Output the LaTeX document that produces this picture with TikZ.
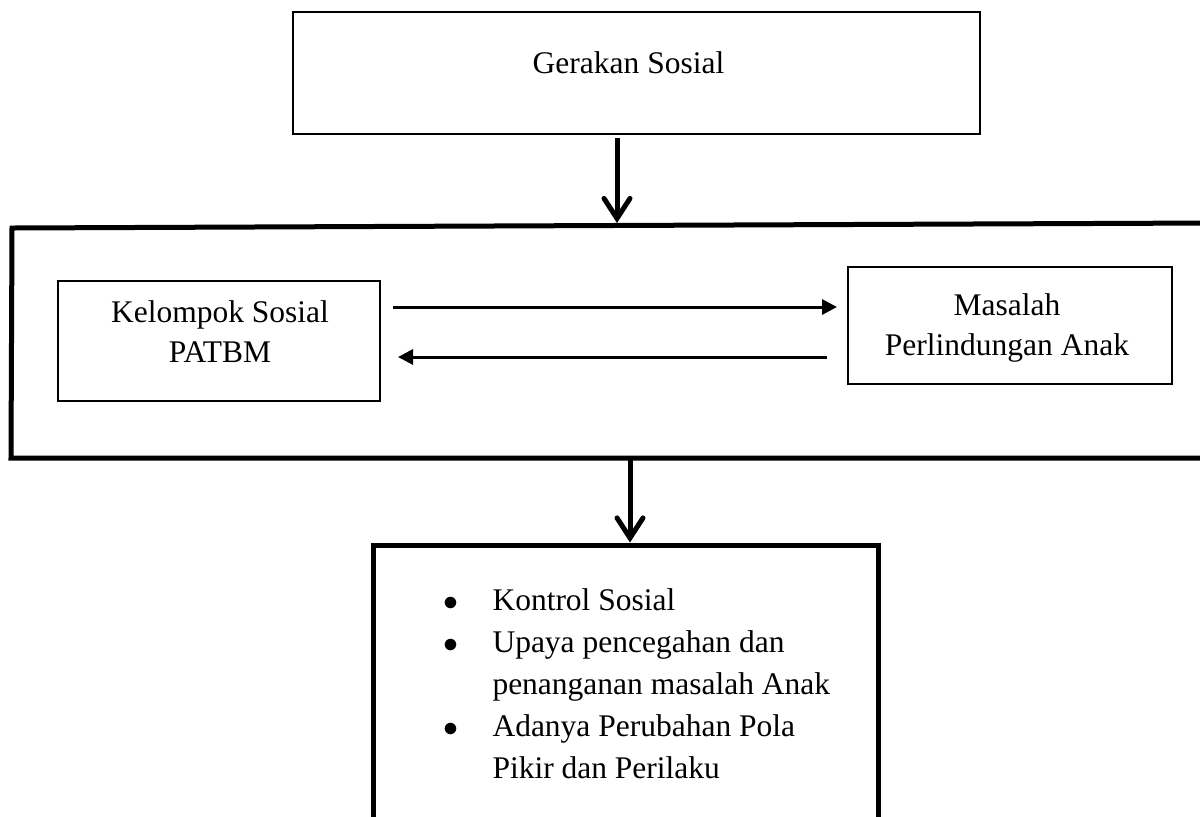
\documentclass[tikz,border=0pt]{standalone}
\usepackage{fontspec}
\setmainfont{Liberation Serif}
\usetikzlibrary{arrows.meta,positioning}

\begin{document}
\begin{tikzpicture}[x=0.4pt,y=-0.4pt]
\tikzstyle{every node}+=[inner sep=0pt,font=\fontsize{12.6}{16}\selectfont]
\tikzstyle{kotak}=[draw,line width=0.8pt]
\tikzstyle{tebal}=[draw,line width=2pt]
\tikzstyle{panahbesar}=[line width=2pt,-{Straight Barb[length=8pt,width=10.4pt,line cap=round]}]
\tikzstyle{panahkecil}=[line width=1.2pt,-{Triangle[length=6pt,width=6pt]}]
\useasboundingbox (0,0) rectangle (1200,816);
\clip (0,0) rectangle (1200,816);
% kotak atas
\node [kotak,minimum width=274.8pt,minimum height=48.8pt] (gerakan) at (636.5,73) {};
\node [anchor=base] (gerakantxt) at (628.5,73) {Gerakan Sosial};
% bingkai tengah
\draw [line width=2pt] (1210,223) -- (12,228) -- (11,458) -- (1210,458);
\coordinate (bingkaiatas) at (617,223);
\coordinate (bingkaibawah) at (630,456);
% kotak kiri dan kanan
\node [kotak,minimum width=128.8pt,minimum height=48pt] (kelompok) at (219,341) {};
\node [anchor=base,align=center] (kelompoktxt) at (220,362) {Kelompok Sosial\\PATBM};
\node [kotak,minimum width=129.6pt,minimum height=46.8pt] (masalah) at (1010,325.5) {};
\node [anchor=base,align=center] (masalahtxt) at (1007,355) {Masalah\\Perlindungan Anak};
% kotak bawah
\node [tebal,minimum width=202pt,minimum height=118pt] (hasil) at (625.5,692.5) {};
\node [anchor=north west,font=\fontsize{12.6}{16.8}\selectfont] (hasiltxt) at (443,580.6)
  {\begin{tabular}{@{}p{19.6pt}@{}l@{}}
   $\bullet$ & Kontrol Sosial\\
   $\bullet$ & Upaya pencegahan dan\\
    & penanganan masalah Anak\\
   $\bullet$ & Adanya Perubahan Pola\\
    & Pikir dan Perilaku
   \end{tabular}};
% panah
\coordinate (keluar1) at (617,138);
\coordinate (keKanan1) at (393,307);
\coordinate (keKanan2) at (837,307);
\coordinate (keKiri1) at (827,357);
\coordinate (keKiri2) at (398,357);
\draw [panahbesar] (keluar1) -- (bingkaiatas);
\draw [panahbesar] (bingkaibawah) -- (hasil.north -| bingkaibawah);
\draw [panahkecil] (keKanan1) -- (keKanan2);
\draw [panahkecil] (keKiri1) -- (keKiri2);
\end{tikzpicture}
\end{document}
